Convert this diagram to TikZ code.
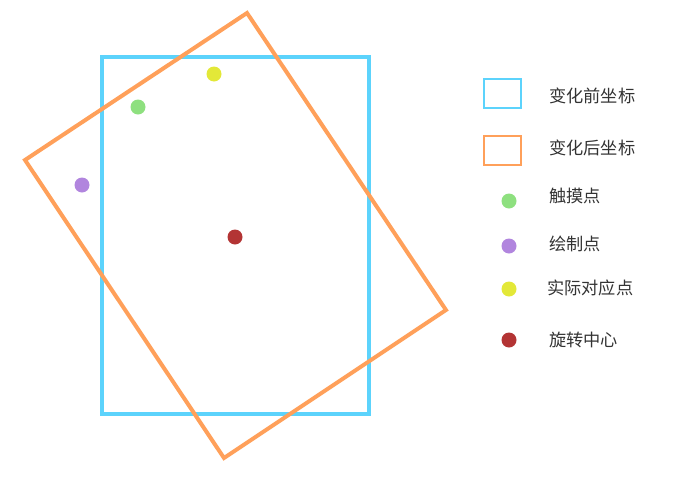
\documentclass[tikz,border=0pt]{standalone}
\usepackage{fontspec}
\newfontfamily\cjk{Noto Sans CJK SC}
\definecolor{azul}{RGB}{92,211,252}
\definecolor{naranja}{RGB}{255,160,90}
\definecolor{verde}{RGB}{142,224,127}
\definecolor{morado}{RGB}{177,133,222}
\definecolor{amarillo}{RGB}{227,232,56}
\definecolor{rojo}{RGB}{179,52,52}
\definecolor{texto}{RGB}{51,51,51}
\begin{document}
\begin{tikzpicture}[x=1pt, y=-1pt,
      every node/.style={font=\cjk\fontsize{17.2pt}{20pt}\selectfont, text=texto, anchor=west, inner sep=0pt},
      punto/.style={circle, fill=#1, minimum size=15pt, inner sep=0pt, anchor=center},
      muestra/.style={draw=#1, line width=2pt, minimum width=37pt, minimum height=29pt, inner sep=0pt, anchor=center}
    ]
    \useasboundingbox (0,0) rectangle (686,477);
    % Rectángulos antes y después de la rotación
    \draw[azul, line width=4pt] (102,57) rectangle (369,414);
    \draw[naranja, line width=4pt, line join=miter]
      (247,13) coordinate (o1) -- (446,310) coordinate (o2) -- (224,458) coordinate (o3) -- (25,160) coordinate (o4) -- cycle;
    % Puntos
    \node[punto=verde]    (toque)   at (138,107) {};
    \node[punto=amarillo] (real)    at (214,74)  {};
    \node[punto=morado]   (dibujo)  at (82,185)  {};
    \node[punto=rojo]     (centro)  at (235,237) {};
    % Leyenda
    \node[muestra=azul]    (lazul)  at (502.5,93.5)  {};
    \node[muestra=naranja] (lnar)   at (502.5,150)   {};
    \node[punto=verde]     (lverde) at (509,201) {};
    \node[punto=morado]    (lmor)   at (509,246) {};
    \node[punto=amarillo]  (lama)   at (509,289) {};
    \node[punto=rojo]      (lrojo)  at (509,340) {};
    \node (tazul)  at (549,96)  {变化前坐标};
    \node (tnar)   at (549,148) {变化后坐标};
    \node (tverde) at (549,196) {触摸点};
    \node (tmor)   at (549,244) {绘制点};
    \node (tama)   at (547,288) {实际对应点};
    \node (trojo)  at (549,340) {旋转中心};
  \end{tikzpicture}
\end{document}
